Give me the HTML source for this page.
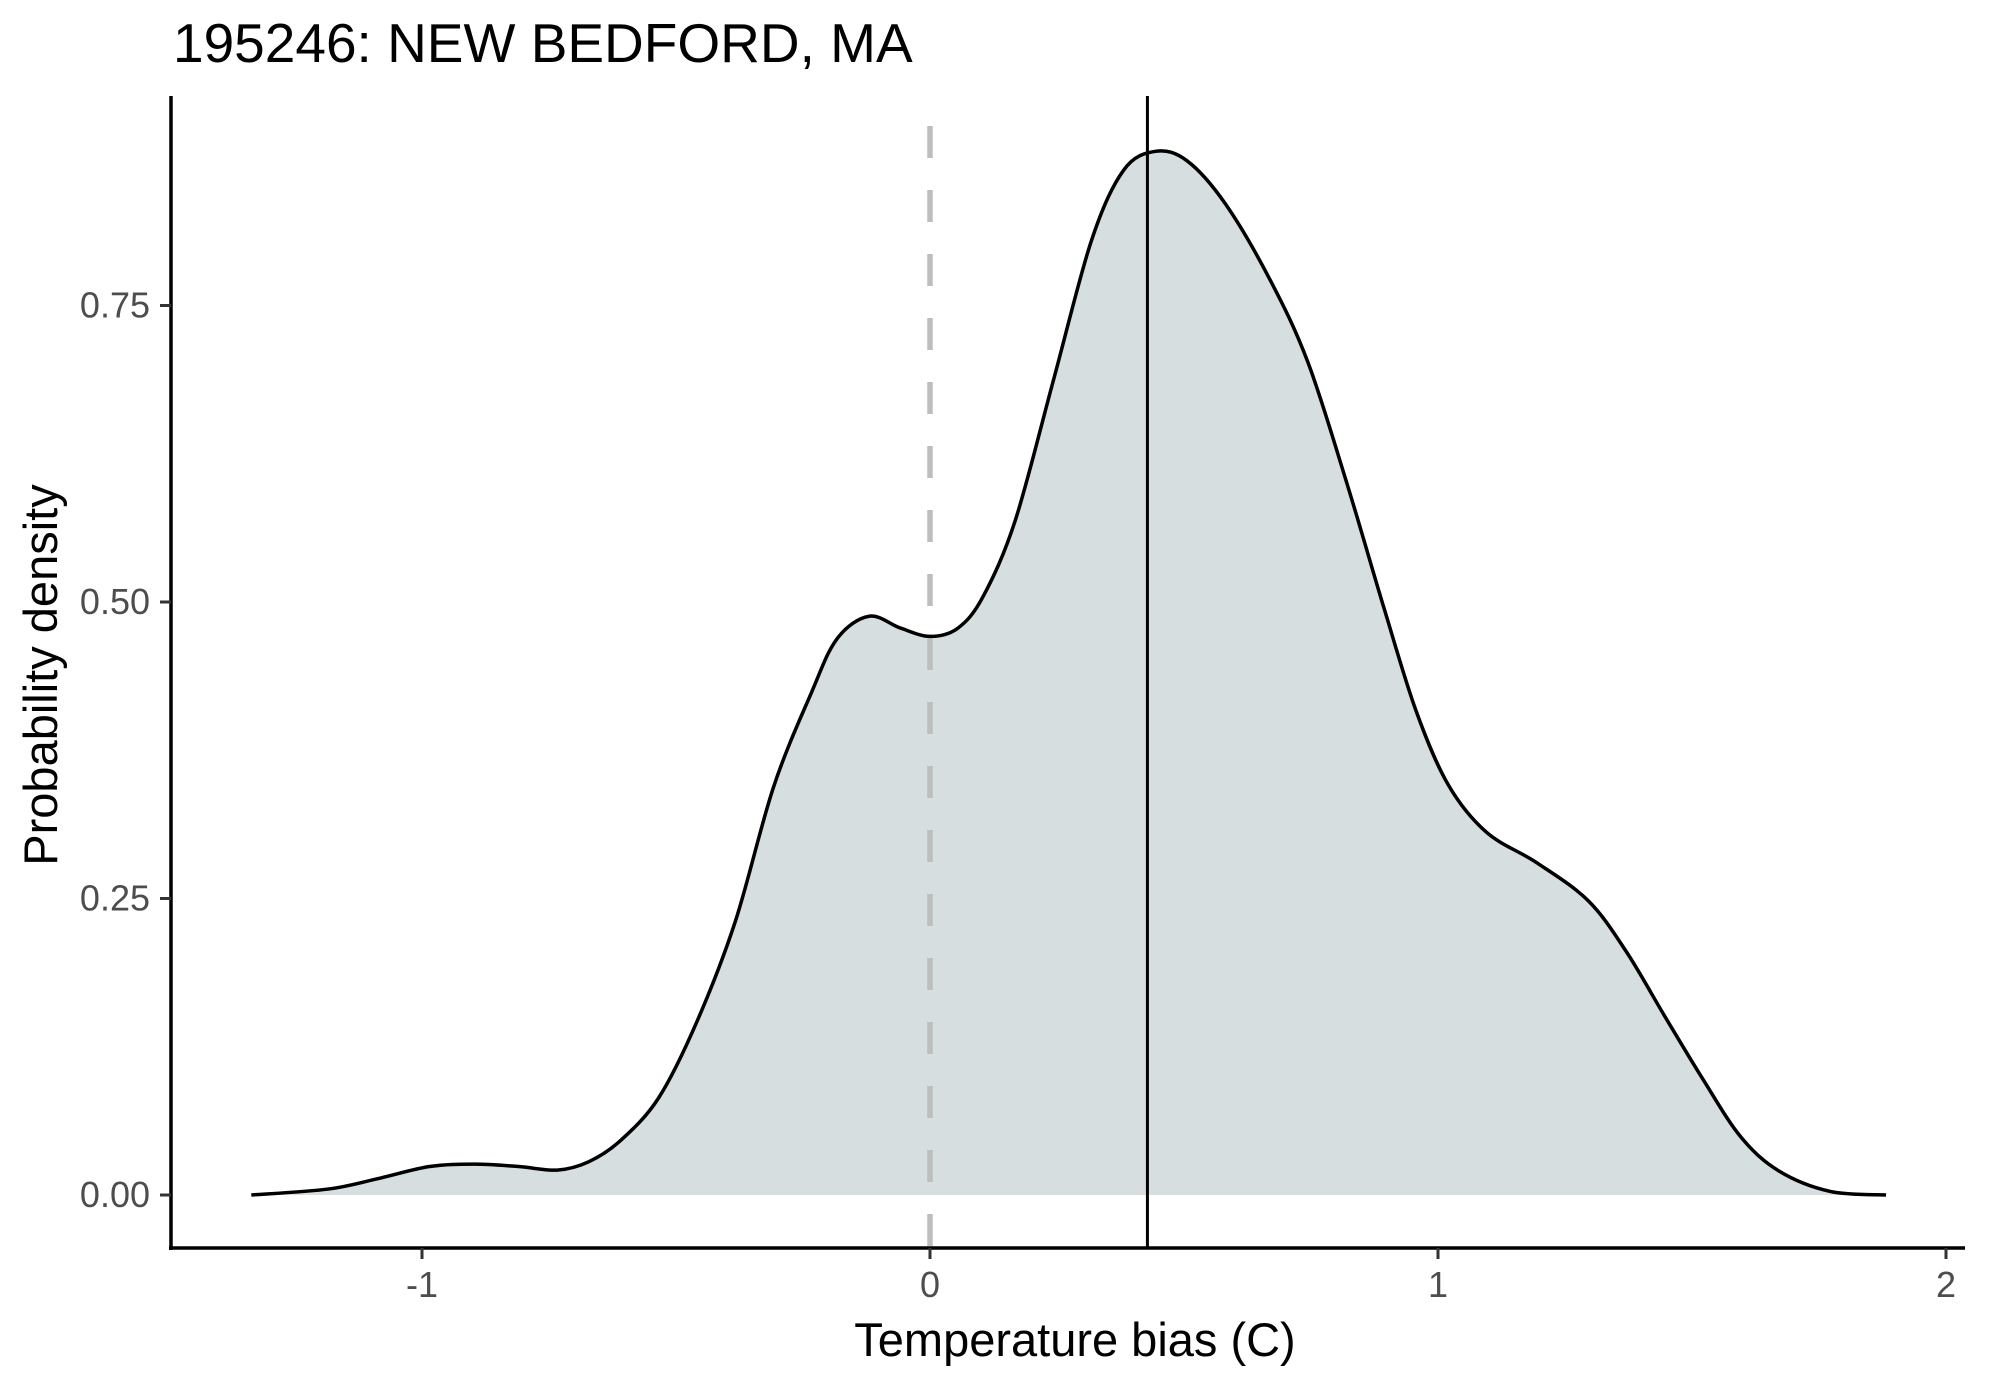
<!DOCTYPE html>
<html><head><meta charset="utf-8"><style>
html,body{margin:0;padding:0;background:#fff;}
svg{display:block;font-family:"Liberation Sans",sans-serif;}
</style></head><body>
<svg id="chart" width="1990" height="1384" viewBox="0 0 1990 1384">
<text x="173" y="62" font-size="55" fill="#000">195246: NEW BEDFORD, MA</text>
<g id="plot"></g>
<text x="1075" y="1356" font-size="47" text-anchor="middle" fill="#000">Temperature bias (C)</text>
<text transform="translate(57,675) rotate(-90)" font-size="47" text-anchor="middle" fill="#000">Probability density</text>
</svg>
<script>
const densX=[-1.336,-1.185,-1.085,-0.985,-0.897,-0.810,-0.734,-0.672,-0.609,-0.534,-0.459,-0.383,-0.308,-0.233,-0.183,-0.120,-0.058,0,0.055,0.105,0.168,0.243,0.318,0.381,0.444,0.506,0.581,0.669,0.744,0.820,0.895,0.957,1.020,1.095,1.195,1.296,1.371,1.446,1.521,1.596,1.672,1.772,1.882];
const densY=[0,0.005,0.014,0.024,0.026,0.024,0.021,0.028,0.046,0.082,0.146,0.231,0.344,0.424,0.469,0.488,0.478,0.471,0.478,0.505,0.569,0.687,0.805,0.864,0.880,0.872,0.836,0.772,0.702,0.601,0.493,0.408,0.346,0.306,0.280,0.248,0.205,0.151,0.098,0.049,0.020,0.003,0];
const xTicks=[-1,0,1,2];
const xTickLabels=["-1","0","1","2"];
const yTicks=[0,0.25,0.5,0.75];
const yTickLabels=["0.00","0.25","0.50","0.75"];
const meanBias=[0.428];
const refLine=[0];

const X=v=>930+v*508;
const Y=v=>1195-v*1186;
const NS="http://www.w3.org/2000/svg";
const g=document.getElementById('plot');
function mk(t,a){const e=document.createElementNS(NS,t);for(const k in a)e.setAttribute(k,a[k]);g.appendChild(e);return e;}

const pts=densX.map((x,i)=>[X(x),Y(densY[i])]);
let d="M"+pts[0][0]+","+pts[0][1];
for(let i=0;i<pts.length-1;i++){
  const p0=pts[Math.max(0,i-1)],p1=pts[i],p2=pts[i+1],p3=pts[Math.min(pts.length-1,i+2)];
  const c1=[p1[0]+(p2[0]-p0[0])/6,p1[1]+(p2[1]-p0[1])/6];
  const c2=[p2[0]-(p3[0]-p1[0])/6,p2[1]-(p3[1]-p1[1])/6];
  d+=` C${c1[0]},${c1[1]} ${c2[0]},${c2[1]} ${p2[0]},${p2[1]}`;
}
const area=mk('path',{d:d+` L${pts[pts.length-1][0]},${Y(0)} L${pts[0][0]},${Y(0)} Z`,fill:'#D7DEE0',stroke:'none'});



const zl=mk('line',{x1:X(refLine[0]),x2:X(refLine[0]),y1:126,y2:1248,stroke:'#BEBEBE','stroke-width':5.5,'stroke-dasharray':'32,32'});



const line=mk('path',{d:d,fill:'none',stroke:'#000','stroke-width':3.5,'stroke-linejoin':'round'});



const ml=mk('line',{x1:X(meanBias[0]),x2:X(meanBias[0]),y1:96,y2:1248,stroke:'#000','stroke-width':3});



const ya=mk('line',{x1:171,x2:171,y1:96,y2:1250,stroke:'#000','stroke-width':3.5});


const xa=mk('line',{x1:169,x2:1965,y1:1248,y2:1248,stroke:'#000','stroke-width':3.5});



xTicks.forEach((v,i)=>{
  const t=mk('line',{x1:X(v),x2:X(v),y1:1248,y2:1259,stroke:'#333','stroke-width':3});
  
  
  const l=mk('text',{x:X(v),y:1297,'font-size':36,'text-anchor':'middle',fill:'#4D4D4D'});
  l.textContent=xTickLabels[i];
  
  
});
yTicks.forEach((v,i)=>{
  const t=mk('line',{x1:160,x2:171,y1:Y(v),y2:Y(v),stroke:'#333','stroke-width':3});
  
  
  const l=mk('text',{x:150,y:Y(v)+12,'font-size':36,'text-anchor':'end',fill:'#4D4D4D'});
  l.textContent=yTickLabels[i];
  
  
});
</script>
</body></html>
